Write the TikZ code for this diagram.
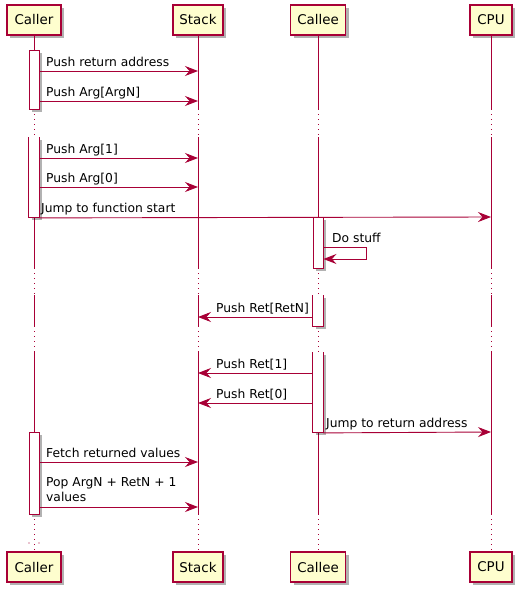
\documentclass[tikz,border=0pt]{standalone}
\usepackage{fontspec}
\setmainfont{DejaVu Sans}
\usetikzlibrary{arrows.meta,shadows}
\definecolor{pu}{HTML}{A80036}
\definecolor{pbox}{HTML}{FEFECE}
\begin{document}
\begin{tikzpicture}[x=1pt,y=-1pt,
  part/.style={draw=pu,line width=1.2pt,fill=pbox,minimum width=#1,minimum height=30pt,inner sep=0pt,
    font=\fontsize{13.4}{15}\selectfont,
    drop shadow={shadow xshift=3pt,shadow yshift=-3pt,opacity=0.3,fill=black}},
  life/.style={draw=pu,line width=0.9pt},
  lifedot/.style={draw=pu,line width=0.9pt,dash pattern=on 1pt off 4pt},
  msg/.style={draw=pu,line width=0.9pt,-{Stealth[length=13pt,width=10pt,inset=4.5pt]}},
  lbl/.style={inner sep=0pt,font=\fontsize{12.3}{15}\selectfont},
  actbar/.style={draw=pu,line width=0.9pt,fill=white,minimum width=10pt,minimum height=#1,inner sep=0pt,
    anchor=north,drop shadow={shadow xshift=3pt,shadow yshift=-3pt,opacity=0.3,fill=black}},
  actopen/.style={actbar=#1,draw=none},
  actedge/.style={draw=pu,line width=0.9pt}
]
\fill[white] (0,0) rectangle (524,595);
\useasboundingbox (0,0) rectangle (524,595);

% participants
\node[part=54] (caller-t) at (34,20) {Caller};
\node[part=50] (stack-t) at (198,20) {Stack};
\node[part=55] (callee-t) at (318,20) {Callee};
\node[part=42] (cpu-t) at (491,20) {CPU};
\node[part=54] (caller-b) at (34,567) {Caller};
\node[part=50] (stack-b) at (198,567) {Stack};
\node[part=55] (callee-b) at (318,567) {Callee};
\node[part=42] (cpu-b) at (491,567) {CPU};

% lifelines
\foreach \p in {caller,stack,callee,cpu}{
  \draw[life] (\p-t.south) -- (\p-t |- 0,109);
  \draw[lifedot] (\p-t |- 0,109) -- (\p-t |- 0,137);
  \draw[life] (\p-t |- 0,137) -- (\p-t |- 0,268);
  \draw[lifedot] (\p-t |- 0,268) -- (\p-t |- 0,295);
  \draw[life] (\p-t |- 0,295) -- (\p-t |- 0,326);
  \draw[lifedot] (\p-t |- 0,326) -- (\p-t |- 0,352);
  \draw[life] (\p-t |- 0,352) -- (\p-t |- 0,514);
  \draw[lifedot] (\p-t |- 0,514) -- (\p-b.north);
}
\fill[pu] (29,543) circle (0.6);
\fill[pu] (39,543) circle (0.6);

% activation bars
\node[actbar=59pt] (a1) at (34,50) {};
\node[actopen=80pt] (a2) at (34,137) {};
\draw[actedge] (a2.north west) -- (a2.south west) -- (a2.south east) -- (a2.north east);
\node[actbar=82pt] (a3) at (34,432) {};
\node[actbar=51pt] (b1) at (318,217) {};
\node[actopen=31pt] (b2) at (318,295) {};
\draw[actedge] (b2.north west) -- (b2.south west) -- (b2.south east) -- (b2.north east);
\node[actopen=80pt] (b3) at (318,352) {};
\draw[actedge] (b3.north west) -- (b3.south west) -- (b3.south east) -- (b3.north east);

% messages
\draw[msg] (a1.east |- 0,71) -- (stack-t |- 0,71);
\node[lbl,anchor=base west] (m1) at (46,66) {Push return address};
\draw[msg] (a1.east |- 0,101) -- (stack-t |- 0,101);
\node[lbl,anchor=base west] (m2) at (46,96) {Push Arg[ArgN]};
\draw[msg] (a2.east |- 0,158) -- (stack-t |- 0,158);
\node[lbl,anchor=base west] (m3) at (46,153) {Push Arg[1]};
\draw[msg] (a2.east |- 0,187) -- (stack-t |- 0,187);
\node[lbl,anchor=base west] (m4) at (46,182) {Push Arg[0]};
\draw[msg] (a2.south east) -- (cpu-t |- 0,217);
\node[lbl,anchor=base west] (m5) at (41,212) {Jump to function start};
\draw[msg] (b1.east |- 0,247) -- ++(43,0) -- ++(0,12) -- (b1.east |- 0,259);
\node[lbl,anchor=base west] (m6) at (332,242) {Do stuff};
\draw[msg] (b2.west |- 0,317) -- (stack-t |- 0,317);
\node[lbl,anchor=base west] (m7) at (216,312) {Push Ret[RetN]};
\draw[msg] (b3.west |- 0,373) -- (stack-t |- 0,373);
\node[lbl,anchor=base west] (m8) at (216,368) {Push Ret[1]};
\draw[msg] (b3.west |- 0,403) -- (stack-t |- 0,403);
\node[lbl,anchor=base west] (m9) at (216,398) {Push Ret[0]};
\draw[msg] (b3.south east) -- (cpu-t |- 0,432);
\node[lbl,anchor=base west] (m10) at (326,427) {Jump to return address};
\draw[msg] (a3.east |- 0,462) -- (stack-t |- 0,462);
\node[lbl,anchor=base west] (m11) at (46,457) {Fetch returned values};
\draw[msg] (a3.east |- 0,507) -- (stack-t |- 0,507);
\node[lbl,anchor=south west,align=left] (m12) at (46,502) {Pop ArgN + RetN + 1\\values};
\end{tikzpicture}
\end{document}
